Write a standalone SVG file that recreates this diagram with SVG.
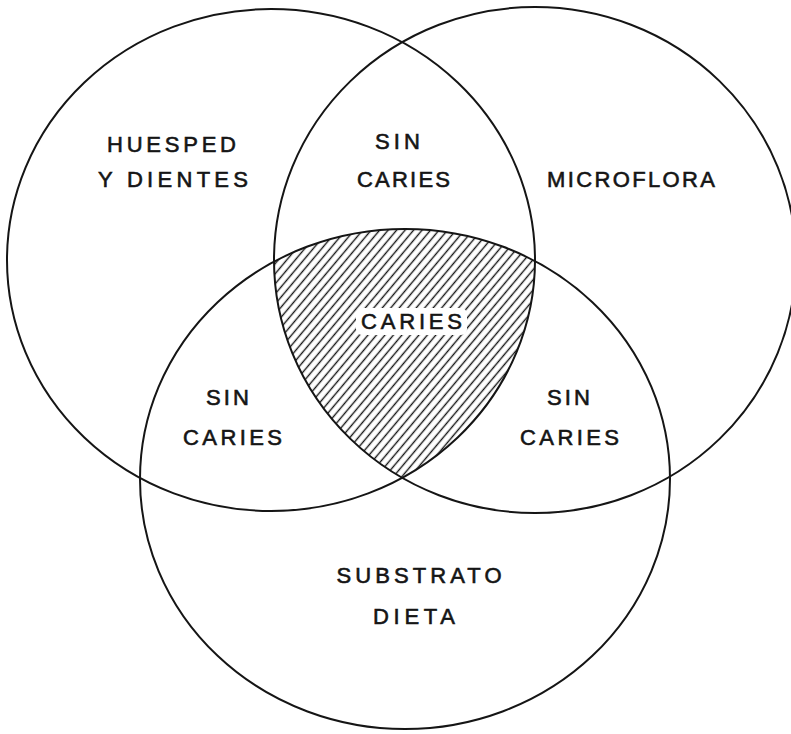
<svg xmlns="http://www.w3.org/2000/svg" width="791" height="734" viewBox="0 0 791 734">
  <style>
    .ring { fill: none; stroke: #151515; stroke-width: 2; }
    .lbl { font-family: "Liberation Sans", Arial, Helvetica, sans-serif; font-size: 22px; fill: #151515; stroke: #151515; stroke-width: 0.6; text-anchor: middle; }
  </style>
  <defs>
    <pattern id="hatch" patternUnits="userSpaceOnUse" width="6.5" height="6.5" patternTransform="rotate(40)">
      <line x1="3.25" y1="0" x2="3.25" y2="6.5" stroke="#151515" stroke-width="1.4"/>
    </pattern>
    <clipPath id="cL"><ellipse cx="271" cy="260" rx="264" ry="251"/></clipPath>
    <clipPath id="cR"><ellipse cx="535" cy="260" rx="261" ry="253"/></clipPath>
    <clipPath id="cB"><ellipse cx="405" cy="479" rx="265" ry="250"/></clipPath>
  </defs>
  <rect width="791" height="734" fill="#ffffff"/>

  <g id="caries-zone">
    <g clip-path="url(#cL)">
      <g clip-path="url(#cR)">
        <rect x="250" y="220" width="310" height="270" fill="url(#hatch)" clip-path="url(#cB)"/>
      </g>
    </g>
    <rect x="356" y="308" width="111" height="27" rx="6" fill="#ffffff"/>
    <text class="lbl" x="411.5" y="329" textLength="101" lengthAdjust="spacing">CARIES</text>
  </g>

  <g id="huesped">
    <ellipse class="ring" cx="271" cy="260" rx="264" ry="251"/>
    <text class="lbl" x="171.5" y="152" textLength="129" lengthAdjust="spacing">HUESPED</text>
    <text class="lbl" x="173" y="187" textLength="150" lengthAdjust="spacing">Y DIENTES</text>
  </g>

  <g id="microflora">
    <ellipse class="ring" cx="535" cy="260" rx="261" ry="253"/>
    <text class="lbl" x="631" y="187" textLength="168" lengthAdjust="spacing">MICROFLORA</text>
  </g>

  <g id="substrato">
    <ellipse class="ring" cx="405" cy="479" rx="265" ry="250"/>
    <text class="lbl" x="419" y="583" textLength="165" lengthAdjust="spacing">SUBSTRATO</text>
    <text class="lbl" x="414" y="624" textLength="82" lengthAdjust="spacing">DIETA</text>
  </g>

  <g id="sin-caries-top">
    <text class="lbl" x="397.5" y="149" textLength="45" lengthAdjust="spacing">SIN</text>
    <text class="lbl" x="403.5" y="187" textLength="93" lengthAdjust="spacing">CARIES</text>
  </g>

  <g id="sin-caries-left">
    <text class="lbl" x="227.5" y="405" textLength="43" lengthAdjust="spacing">SIN</text>
    <text class="lbl" x="232.5" y="445" textLength="99" lengthAdjust="spacing">CARIES</text>
  </g>

  <g id="sin-caries-right">
    <text class="lbl" x="568.5" y="405" textLength="43" lengthAdjust="spacing">SIN</text>
    <text class="lbl" x="569.5" y="445" textLength="99" lengthAdjust="spacing">CARIES</text>
  </g>

  <g id="connectors"></g>
</svg>
